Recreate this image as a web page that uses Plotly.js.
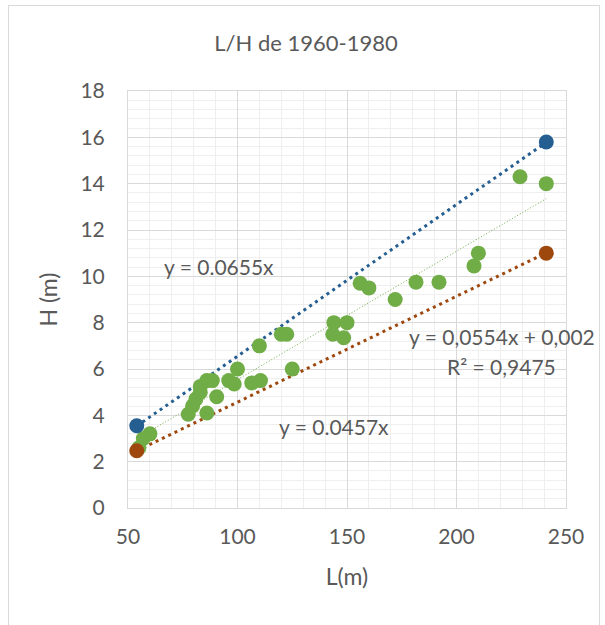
<!DOCTYPE html>
<html>
<head>
<meta charset="utf-8">
<script src="https://cdn.plot.ly/plotly-3.0.1.min.js"></script>
<style>
  html, body { margin: 0; padding: 0; background: #fff; }
  #frame { position: absolute; left: 8px; top: 5px; width: 592px; height: 630px; border: 1px solid #d9d9d9; box-sizing: border-box; }
  #chart { position: absolute; left: 0; top: 0; width: 605px; height: 625px; }
</style>
</head>
<body>
<div id="frame"></div>
<div id="chart"></div>
<script>
// Measured data (L in m, H in m)
const greenL = [55, 57, 60, 77.5, 79.5, 81, 83, 86, 90.5, 83, 86, 88.5, 96, 98.5, 100, 106.5, 110.5, 125, 110, 120, 122.5, 144, 150, 143.5, 148.5, 156, 160, 172, 181.5, 192, 208, 210, 229, 241];
const greenH = [2.6, 3.0, 3.2, 4.05, 4.4, 4.7, 5.0, 4.1, 4.8, 5.25, 5.5, 5.5, 5.5, 5.35, 6.0, 5.4, 5.5, 6.0, 7.0, 7.5, 7.5, 8.0, 8.0, 7.5, 7.35, 9.7, 9.5, 9.0, 9.75, 9.75, 10.45, 11.0, 14.3, 14.0];
const blueL = [54, 241];
const blueH = [3.55, 15.8];
const orangeL = [54, 241];
const orangeH = [2.47, 11.0];

// Trend line coefficients
const upperSlope = 0.0655;
const lowerSlope = 0.0457;
const fitSlope = 0.0554;
const fitIntercept = 0.002;
const trendRange = [54, 241];

const xTicks = [50, 100, 150, 200, 250];
const yTicks = [0, 2, 4, 6, 8, 10, 12, 14, 16, 18];

const font = 'Lato, "Liberation Sans", sans-serif';
const gray = '#595959';

const traces = [
  { x: trendRange, y: trendRange.map(v => upperSlope * v), mode: 'lines',
    line: { color: '#255e91', width: 3, dash: '3px,4px' }, hoverinfo: 'skip' },
  { x: trendRange, y: trendRange.map(v => lowerSlope * v), mode: 'lines',
    line: { color: '#9e480e', width: 3, dash: '3px,4px' }, hoverinfo: 'skip' },
  { x: trendRange, y: trendRange.map(v => fitSlope * v + fitIntercept), mode: 'lines',
    line: { color: '#70ad47', width: 1, dash: '1px,2px' }, hoverinfo: 'skip' },
  { x: greenL, y: greenH, mode: 'markers',
    marker: { color: '#70ad47', size: 15 } },
  { x: blueL, y: blueH, mode: 'markers',
    marker: { color: '#255e91', size: 15 } },
  { x: orangeL, y: orangeH, mode: 'markers',
    marker: { color: '#9e480e', size: 15 } }
];

const layout = {
  width: 605, height: 625,
  margin: { l: 128, r: 39, t: 91, b: 117 },
  paper_bgcolor: 'rgba(0,0,0,0)',
  plot_bgcolor: '#fff',
  showlegend: false,
  font: { family: font, color: gray, size: 16 },
  title: { text: 'L/H de 1960-1980', font: { family: font, size: 22, color: gray },
           x: 306 / 605, xanchor: 'center', xref: 'container',
           y: 1 - 43 / 625, yanchor: 'middle', yref: 'container' },
  xaxis: {
    range: [50, 250], tickvals: xTicks, ticktext: xTicks.map(String),
    showgrid: true, gridcolor: '#d9d9d9', gridwidth: 1,
    minor: { dtick: 10, showgrid: true, gridcolor: '#efefef', gridwidth: 1 },
    showline: true, linecolor: '#d9d9d9', linewidth: 1, mirror: true,
    zeroline: false, ticks: '', ticklen: 0, ticklabelstandoff: 10,
    tickfont: { family: font, size: 21, color: gray },
    title: { text: 'L(m)', font: { family: font, size: 23, color: gray }, standoff: 21 }
  },
  yaxis: {
    range: [0, 18], tickvals: yTicks, ticktext: yTicks.map(String),
    showgrid: true, gridcolor: '#d9d9d9', gridwidth: 1,
    minor: { dtick: 0.4, showgrid: true, gridcolor: '#efefef', gridwidth: 1 },
    showline: true, linecolor: '#d9d9d9', linewidth: 1, mirror: true,
    zeroline: false, ticks: '', ticklen: 0, ticklabelstandoff: 18,
    tickfont: { family: font, size: 21, color: gray },
    title: { text: 'H (m)', font: { family: font, size: 23, color: gray }, standoff: 16 }
  },
  annotations: [
    { x: 65.5, y: 10.44, xref: 'x', yref: 'y', text: 'y = 0.0655x', showarrow: false,
      xanchor: 'left', yanchor: 'middle', font: { family: font, size: 21, color: gray } },
    { x: 118, y: 3.52, xref: 'x', yref: 'y', text: 'y = 0.0457x', showarrow: false,
      xanchor: 'left', yanchor: 'middle', font: { family: font, size: 21, color: gray } },
    { x: (407 - 128) / 438, y: (509 - 337) / 419, xref: 'paper', yref: 'paper', text: 'y = 0,0554x + 0,002', showarrow: false,
      xanchor: 'left', yanchor: 'middle', font: { family: font, size: 21, color: gray } },
    { x: (445 - 128) / 438, y: (509 - 367) / 419, xref: 'paper', yref: 'paper', text: 'R² = 0,9475', showarrow: false,
      xanchor: 'left', yanchor: 'middle', font: { family: font, size: 21, color: gray } }
  ]
};

Plotly.newPlot('chart', traces, layout, { displayModeBar: false, staticPlot: true });
</script>
</body>
</html>
